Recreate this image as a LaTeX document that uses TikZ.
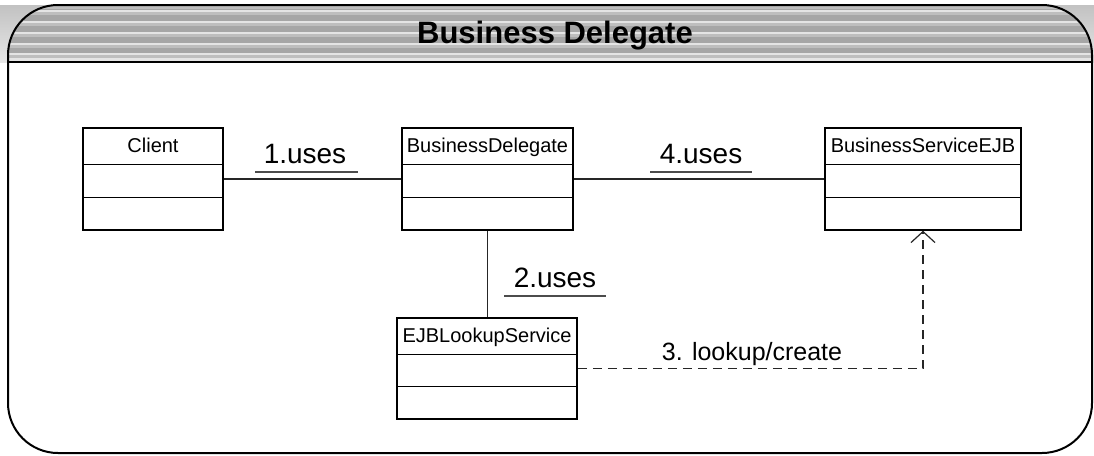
\documentclass[tikz,border=0pt]{standalone}
\usepackage{fontspec}
\setmainfont{Liberation Sans}
\usetikzlibrary{arrows.meta}
\definecolor{barlight}{HTML}{E4E4E4}
\definecolor{barmid}{HTML}{BEBEBE}
\definecolor{barbase}{HTML}{A6A6A6}
\definecolor{cornertop}{HTML}{C2C2C2}
\definecolor{cornerbot}{HTML}{E6E6E6}
\begin{document}
\begin{tikzpicture}[x=1pt,y=-1pt,
  classbox/.style={draw, line width=1.5pt, minimum height=102pt, inner sep=0pt},
  cname/.style={font=\fontsize{20}{20}\selectfont, inner sep=0pt, anchor=base},
  conn/.style={line width=1.2pt, draw=black!85},
  lbl/.style={font=\fontsize{28}{28}\selectfont, inner sep=0pt, anchor=base},
  uline/.style={line width=1.2pt, draw=black!70},
  frameline/.style={line width=2pt, draw=black}]
\useasboundingbox (0,0) rectangle (1094,455);
% title bar background
\shade[top color=cornertop, bottom color=cornerbot] (0,5) rectangle (1094,62);
\begin{scope}
  \clip[rounded corners=50pt] (8,5) rectangle (1092,453);
  \fill[barbase] (0,5) rectangle (1094,62);
  \fill[barmid] (0,5) rectangle (1094,9);
  \foreach \yy in {10,21,32,43,53} {
    \fill[barlight] (0,\yy) rectangle (1094,\yy+2);
    \fill[barmid] (0,\yy+2) rectangle (1094,\yy+5);
  }
  \fill[barlight] (0,58) rectangle (1094,62);
\end{scope}
\draw[frameline, rounded corners=50pt] (8,5) rectangle (1092,453);
\draw[frameline] (8,62) -- (1092,62);
\node[font=\bfseries\fontsize{31}{31}\selectfont, anchor=base, inner sep=0pt] (title) at (555,43) {Business Delegate};
% classes
\node[classbox, minimum width=140pt] (client) at (153,179) {};
\node[classbox, minimum width=171pt] (bd) at (487.5,179) {};
\node[classbox, minimum width=196pt] (bse) at (923,179) {};
\node[classbox, minimum width=180pt, minimum height=101pt] (ejb) at (487,368.5) {};
\node[cname] (clientn) at ([yshift=-25pt]client.north) {Client};
\node[cname] (bdn) at ([yshift=-25pt]bd.north) {BusinessDelegate};
\node[cname] (bsen) at ([yshift=-25pt]bse.north) {BusinessServiceEJB};
\node[cname] (ejbn) at ([yshift=-25pt]ejb.north) {EJBLookupService};
\foreach \n in {client,bd,bse} {
  \draw[line width=1.5pt] ([yshift=-37pt]\n.north west) -- ([yshift=-37pt]\n.north east);
  \draw[line width=1.5pt] ([yshift=-70pt]\n.north west) -- ([yshift=-70pt]\n.north east);
}
\draw[line width=1.5pt] ([yshift=-37pt]ejb.north west) -- ([yshift=-37pt]ejb.north east);
\draw[line width=1.5pt] ([yshift=-69pt]ejb.north west) -- ([yshift=-69pt]ejb.north east);
% connectors
\draw[conn] (client.east) -- (bd.west);
\draw[conn] (bd.east) -- (bse.west);
\draw[conn] (bd.south) -- (bd.south |- ejb.north);
\draw[conn, dash pattern=on 9pt off 6pt, -{Straight Barb[length=11pt,width=24pt]}] (ejb.east) -- (ejb.east -| bse.south) -- (bse.south);
% labels
\node[lbl] (l1) at (305,163) {1.uses};
\draw[uline] (255,172) -- (358,172);
\node[lbl] (l2) at (555,287) {2.uses};
\draw[uline] (504,296) -- (606,296);
\node[lbl] (l4) at (701,163) {4.uses};
\draw[uline] (650,172) -- (752,172);
\node[lbl, font=\fontsize{25}{25}\selectfont] (l3) at (752,360) {3. lookup/create};
\end{tikzpicture}
\end{document}
